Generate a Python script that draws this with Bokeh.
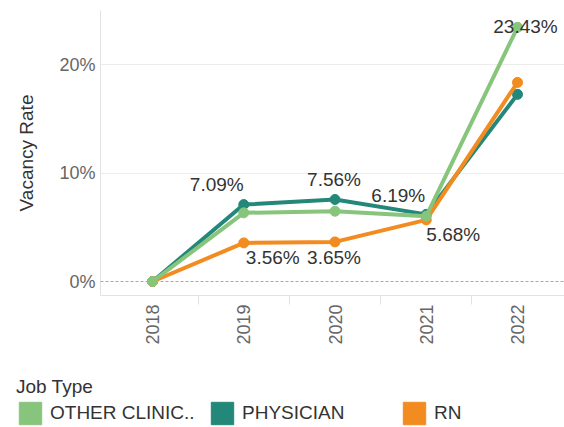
from math import pi
from bokeh.plotting import figure
from bokeh.layouts import column
from bokeh.models import (ColumnDataSource, Range1d, FixedTicker, PrintfTickFormatter,
                          Span, Legend, LegendItem)
from bokeh.core.properties import value
from bokeh.embed import file_html
from bokeh.resources import INLINE

# ---- data (vacancy rate, %) ----
years = ["2018", "2019", "2020", "2021", "2022"]
other_clinical = [0.0, 6.33, 6.48, 6.02, 23.43]
physician = [0.0, 7.09, 7.56, 6.19, 17.25]
rn = [0.0, 3.56, 3.65, 5.68, 18.35]
series_names = ["OTHER CLINIC..", "PHYSICIAN", "RN"]

# which points carry a value label: (series, year index)
label_points = [("PHYSICIAN", 1), ("PHYSICIAN", 2), ("PHYSICIAN", 3),
                ("RN", 1), ("RN", 2), ("RN", 3), ("OTHER CLINIC..", 4)]

# ---- styles ----
colors = {"OTHER CLINIC..": "#88C57C", "PHYSICIAN": "#23877A", "RN": "#F28B20"}
label_dx = [-27, -1, -28, 29, -1, 27, 8]
label_dy = [-20, -20, -19, 15, 16, 15, -1]
FONT = "Liberation Sans"

series = {"OTHER CLINIC..": other_clinical, "PHYSICIAN": physician, "RN": rn}
xs = list(range(len(years)))

p = figure(width=564, height=370, output_backend="svg", toolbar_location=None,
           title=None, x_range=Range1d(-0.57, 4.515), y_range=Range1d(-1.29, 24.98),
           min_border_left=100, min_border_right=0, min_border_top=10, min_border_bottom=75)
p.outline_line_color = None
p.background_fill_color = "white"
p.border_fill_color = "white"

# grid
p.xgrid.visible = False
p.ygrid.ticker = FixedTicker(ticks=[10, 20])
p.ygrid.grid_line_color = "#ececec"
p.add_layout(Span(location=0, dimension="width", line_color="#a8a8a8",
                  line_dash="3 2", line_width=1))

# x axis
xa = p.xaxis[0]
xa.ticker = FixedTicker(ticks=xs, minor_ticks=[i + 0.5 for i in xs[:-1]])
xa.major_label_overrides = {i: y for i, y in zip(xs, years)}
xa.major_label_orientation = pi / 2
xa.major_tick_line_color = None
xa.major_tick_out = 0
xa.major_tick_in = 0
xa.minor_tick_line_color = "#e2e2e2"
xa.minor_tick_out = 9
xa.minor_tick_in = 0
xa.major_label_standoff = 0
xa.axis_line_color = "#e2e2e2"
xa.major_label_text_font = FONT
xa.major_label_text_font_size = "18px"
xa.major_label_text_color = "#666666"

# y axis
ya = p.yaxis[0]
ya.ticker = FixedTicker(ticks=[0, 10, 20])
ya.formatter = PrintfTickFormatter(format="%d%%")
ya.major_tick_line_color = None
ya.minor_tick_line_color = None
ya.major_tick_out = 0
ya.major_tick_in = 0
ya.major_label_standoff = 5
ya.axis_line_color = "#e2e2e2"
ya.major_label_text_font = FONT
ya.major_label_text_font_size = "18px"
ya.major_label_text_color = "#666666"
ya.axis_label = "Vacancy Rate"
ya.axis_label_text_font = FONT
ya.axis_label_text_font_size = "19px"
ya.axis_label_text_font_style = "normal"
ya.axis_label_text_color = "#333333"
ya.axis_label_standoff = 19

# lines and points
for name in ["PHYSICIAN", "RN", "OTHER CLINIC.."]:
    src = ColumnDataSource(dict(x=xs, y=series[name]))
    p.line("x", "y", source=src, line_color=colors[name], line_width=4)
    p.scatter("x", "y", source=src, size=10, fill_color=colors[name],
              line_color=colors[name])

# value labels
lx, ly, lt = [], [], []
for name, i in label_points:
    v = series[name][i]
    lx.append(xs[i]); ly.append(v); lt.append(f"{v:.2f}%")
lsrc = ColumnDataSource(dict(x=lx, y=ly, text=lt, dx=label_dx, dy=label_dy))
p.text("x", "y", text="text", source=lsrc, x_offset="dx", y_offset="dy",
       text_font=value(FONT), text_font_size="19px", text_color="#333333",
       text_align="center", text_baseline="middle")

# legend strip (separate figure below the chart)
lg = figure(width=564, height=57, output_backend="svg", toolbar_location=None,
            title=None, x_axis_type=None, y_axis_type=None,
            x_range=Range1d(0, 1), y_range=Range1d(0, 1),
            min_border_left=0, min_border_right=0, min_border_top=0, min_border_bottom=0)
lg.frame_align = False
lg.outline_line_color = None
lg.xgrid.visible = False
lg.ygrid.visible = False

nan = float("nan")
items = []
for name in series_names:
    r = lg.quad(left=[nan], right=[nan], top=[nan], bottom=[nan],
                fill_color=colors[name], line_color=colors[name])
    items.append(LegendItem(label=name, renderers=[r]))

legend = Legend(items=items, orientation="horizontal", location=(16, 0),
                title="Job Type", title_text_font=FONT, title_text_font_size="19px",
                title_text_font_style="normal", title_text_color="#333333",
                title_standoff=1,
                label_text_font=FONT, label_text_font_size="19px",
                label_text_color="#333333", label_standoff=6, label_width=158,
                label_height=28, glyph_width=28, glyph_height=28, spacing=0,
                padding=0, margin=0, border_line_color=None,
                background_fill_alpha=0)
lg.add_layout(legend, "center")

layout = column(p, lg, spacing=0)
open("out.html", "w").write(file_html(layout, INLINE))
